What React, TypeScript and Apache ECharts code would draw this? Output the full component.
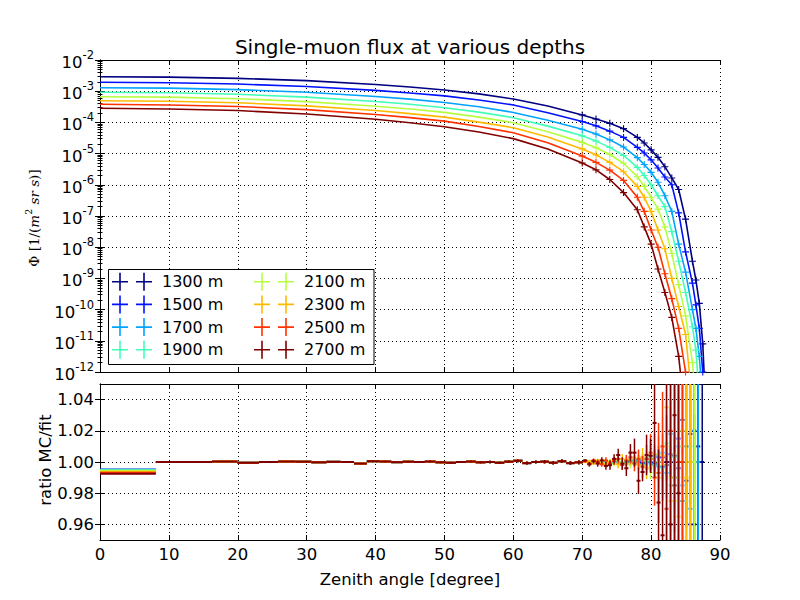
import React, { useEffect, useRef } from 'react';
import * as echarts from 'echarts';

// ---------- labels / names ----------
const titleText = 'Single-muon flux at various depths';
const xAxisTitle = 'Zenith angle [degree]';
const ratioTitle = 'ratio MC/fit';
const depthNames = ['1300 m', '1500 m', '1700 m', '1900 m', '2100 m', '2300 m', '2500 m', '2700 m'];
const depthColors = ['#000080', '#0012ff', '#00a4ff', '#40ffb6', '#b6ff40', '#ffba00', '#ff3200', '#800000'];
const ratioTicks = [0.96, 0.98, 1.0, 1.02, 1.04];

// ---------- top panel: log10 of flux ----------
const fluxAngles = [0, 10, 20, 30, 40, 45, 50, 55, 60, 65, 70, 72, 74, 76, 78, 79, 80, 81, 82, 83, 84, 85, 86, 86.5, 87, 87.5, 88];
const logFlux1300 = [-2.535, -2.55, -2.59, -2.66, -2.785, -2.864, -2.96, -3.086, -3.25, -3.472, -3.76, -3.89, -4.03, -4.2, -4.48, -4.66, -4.88, -5.12, -5.42, -5.78, -6.15, -7.1, -8.45, -9.05, -9.8, -11.1, -13.5];
const logFlux1500 = [-2.715, -2.73, -2.77, -2.85, -2.975, -3.056, -3.15, -3.28, -3.44, -3.69, -3.97, -4.11, -4.28, -4.48, -4.8, -4.98, -5.2, -5.46, -5.75, -6.0, -6.9, -8.15, -9.15, -9.85, -10.6, -12.0, -14];
const logFlux1700 = [-2.888, -2.9, -2.95, -3.035, -3.168, -3.255, -3.36, -3.5, -3.68, -3.93, -4.22, -4.37, -4.56, -4.79, -5.13, -5.35, -5.6, -5.92, -6.35, -6.85, -7.9, -8.8, -10.0, -10.6, -11.5, -13, -15];
const logFlux1900 = [-3.035, -3.05, -3.1, -3.19, -3.328, -3.42, -3.53, -3.67, -3.85, -4.12, -4.43, -4.6, -4.8, -5.06, -5.44, -5.7, -6.0, -6.35, -6.7, -7.5, -8.45, -9.45, -10.55, -11.3, -12.8, -14, -15];
const logFlux2100 = [-3.176, -3.19, -3.24, -3.335, -3.482, -3.573, -3.68, -3.83, -4.01, -4.3, -4.64, -4.81, -5.03, -5.31, -5.74, -6.05, -6.4, -6.78, -7.35, -8.2, -9.2, -10.2, -11.7, -13, -14, -15, -16];
const logFlux2300 = [-3.304, -3.32, -3.37, -3.47, -3.62, -3.718, -3.83, -3.99, -4.17, -4.47, -4.85, -5.04, -5.28, -5.58, -6.05, -6.4, -6.85, -7.45, -8.05, -9.0, -9.9, -10.8, -13, -14, -15, -16, -17];
const logFlux2500 = [-3.42, -3.44, -3.49, -3.59, -3.748, -3.848, -3.96, -4.13, -4.33, -4.65, -5.08, -5.28, -5.53, -5.86, -6.4, -6.85, -7.45, -8.0, -8.85, -9.65, -10.6, -12.0, -14, -15, -16, -17, -18];
const logFlux2700 = [-3.548, -3.57, -3.62, -3.73, -3.9, -4.01, -4.14, -4.31, -4.52, -4.85, -5.3, -5.52, -5.83, -6.25, -6.8, -7.35, -7.9, -8.7, -9.45, -10.25, -11.5, -13.5, -15, -16, -17, -18, -19];
const logFluxAll = [logFlux1300, logFlux1500, logFlux1700, logFlux1900, logFlux2100, logFlux2300, logFlux2500, logFlux2700];

// ---------- bottom panel: ratio MC/fit ----------
const ratioEdges = [0, 8.11, 11.48, 16.26, 19.95, 23.07, 25.84, 28.36, 30.68, 32.86, 34.92, 36.87, 38.74, 40.54, 42.27, 43.95, 45.57, 47.16, 48.7, 50.21, 51.68, 53.13, 54.55, 55.95, 57.32, 58.67, 60.0, 61.31, 62.61, 63.9, 65.17, 66.42, 67.67, 68.9, 70.12, 70.73, 71.34, 71.95, 72.54, 73.14, 73.74, 74.33, 74.93, 75.52, 76.11, 76.7, 77.29, 77.88, 78.46, 79.05, 79.63, 80.21, 80.79, 81.37, 81.95, 82.53, 83.11, 83.69, 84.26, 84.84, 85.41, 85.99, 86.56, 87.13, 87.71];
const firstBinRatio = [0.9951, 0.9951, 0.9951, 0.9947, 0.9944, 0.9938, 0.9931, 0.9925];
const lowRatio = [1.0, 1.0, 1.0003, 0.9995, 1.0, 1.0003, 1.0002, 0.9998, 1.0001, 1.0, 0.999, 1.0005, 1.0003, 0.9999, 1.0002, 1.0, 1.0003, 0.9998, 0.9995, 1.0, 1.0003, 0.9998, 1.0, 0.9995, 1.0002, 1.0008, 0.9993, 1.0, 1.0002, 0.9995, 1.0005, 0.9993, 0.9998];
const lowErr = [0.0002, 0.0002, 0.0002, 0.0003, 0.0003, 0.0003, 0.0003, 0.0003, 0.0004, 0.0004, 0.0004, 0.0004, 0.0005, 0.0005, 0.0005, 0.0005, 0.0006, 0.0006, 0.0006, 0.0007, 0.0007, 0.0007, 0.0008, 0.0008, 0.0009, 0.0009, 0.001, 0.001, 0.0011, 0.0011, 0.0012, 0.0012, 0.0013];

const highRatio1300 = [1.0, 0.9998, 1.0002, 1.0, 0.9997, 1.0003, 1.0, 0.9998, 1.0002, 1.0, 0.9995, 1.0005, 1.0, 1.001, 0.9992, 1.0, 1.002, 0.999, 1.0, 1.003, 0.998, 1.0, 1.004, 0.996, 1.027, 0.988, 1.018, 0.96, 1.01, 1.0];
const highErr1300 = [0.0003, 0.0004, 0.0005, 0.0006, 0.0007, 0.0008, 0.0009, 0.001, 0.0011, 0.0013, 0.0015, 0.0017, 0.002, 0.0022, 0.0025, 0.003, 0.0035, 0.004, 0.005, 0.006, 0.008, 0.01, 0.013, 0.017, 0.022, 0.03, 0.045, 0.07, 0.12, 0.5];
const highRatio1500 = [1.0, 1.0002, 0.9998, 1.0, 1.0003, 0.9997, 1.0, 1.0002, 0.9998, 1.0, 1.0006, 0.9994, 1.001, 1.0, 0.999, 1.0015, 1.0, 0.998, 1.003, 0.997, 1.0, 1.005, 0.99, 1.015, 0.975, 1.01, 0.96, 1.02, 1.0, null];
const highErr1500 = [0.0004, 0.0005, 0.0006, 0.0007, 0.0008, 0.0009, 0.001, 0.0011, 0.0013, 0.0015, 0.0017, 0.002, 0.0022, 0.0025, 0.003, 0.0035, 0.004, 0.005, 0.007, 0.009, 0.012, 0.015, 0.02, 0.027, 0.035, 0.05, 0.08, 0.13, 0.5, null];
const highRatio1700 = [1.0, 0.9998, 1.0003, 1.0, 0.9996, 1.0004, 1.0, 0.9997, 1.0003, 1.0, 0.999, 1.001, 1.0, 1.0015, 0.9985, 1.002, 0.999, 1.004, 0.997, 1.006, 0.993, 1.018, 0.985, 1.01, 0.985, 1.0, 0.97, 1.02, 1.0, null];
const highErr1700 = [0.0005, 0.0006, 0.0007, 0.0008, 0.0009, 0.001, 0.0011, 0.0013, 0.0015, 0.0017, 0.002, 0.0022, 0.0025, 0.003, 0.0035, 0.004, 0.005, 0.007, 0.009, 0.012, 0.016, 0.022, 0.03, 0.045, 0.065, 0.1, 0.16, 0.3, 0.6, null];
const highRatio1900 = [1.0, 1.0003, 0.9997, 1.0, 1.0006, 0.9995, 1.0, 1.0004, 0.9996, 1.0, 1.001, 0.999, 1.0005, 0.9985, 1.002, 1.0, 1.003, 0.998, 1.005, 0.996, 1.012, 0.985, 1.003, 0.99, 1.02, 0.975, 1.01, 1.0, null, null];
const highErr1900 = [0.0006, 0.0007, 0.0008, 0.0009, 0.001, 0.0011, 0.0013, 0.0015, 0.0017, 0.002, 0.0023, 0.0026, 0.003, 0.0035, 0.004, 0.005, 0.0065, 0.009, 0.012, 0.016, 0.022, 0.03, 0.045, 0.07, 0.11, 0.18, 0.3, 0.6, null, null];
const highRatio2100 = [1.0, 0.9995, 1.0005, 1.0, 1.001, 0.999, 1.0005, 0.999, 1.001, 1.0, 1.0015, 0.999, 1.002, 1.003, 0.998, 1.001, 0.997, 0.993, 1.0, 0.998, 1.01, 0.99, 1.005, 0.975, 1.01, 0.99, 1.0, 1.0, null, null];
const highErr2100 = [0.0007, 0.0008, 0.0009, 0.001, 0.0011, 0.0013, 0.0015, 0.0017, 0.002, 0.0023, 0.0027, 0.003, 0.0035, 0.004, 0.005, 0.006, 0.008, 0.012, 0.016, 0.02, 0.03, 0.05, 0.08, 0.12, 0.2, 0.35, 0.5, 0.8, null, null];
const highRatio2300 = [1.0, 1.0005, 0.999, 1.001, 0.9995, 0.9985, 1.0, 1.001, 0.9985, 1.002, 0.999, 1.0015, 1.0, 0.998, 1.003, 0.996, 1.002, 1.005, 0.99, 1.004, 1.035, 0.975, 0.99, 0.965, 1.02, 0.99, 1.0, null, null, null];
const highErr2300 = [0.0008, 0.001, 0.001, 0.0012, 0.0013, 0.0015, 0.0018, 0.002, 0.0025, 0.003, 0.003, 0.0035, 0.004, 0.005, 0.006, 0.007, 0.009, 0.013, 0.018, 0.025, 0.04, 0.06, 0.1, 0.2, 0.3, 0.5, 0.8, null, null, null];
const highRatio2500 = [1.0005, 0.999, 1.001, 1.0, 0.9985, 1.001, 0.999, 1.0005, 1.002, 0.998, 1.001, 1.003, 0.999, 1.002, 0.997, 1.002, 1.006, 0.99, 0.993, 1.01, 0.97, 1.02, 0.985, 1.0, 1.0, null, null, null, null, null];
const highErr2500 = [0.001, 0.001, 0.0012, 0.0015, 0.0015, 0.002, 0.002, 0.0025, 0.003, 0.003, 0.0035, 0.004, 0.005, 0.006, 0.007, 0.009, 0.012, 0.018, 0.032, 0.035, 0.06, 0.15, 0.25, 0.4, 0.6, null, null, null, null, null];
const highRatio2700 = [1.001, 0.9985, 1.0005, 0.999, 1.001, 0.9975, 0.998, 1.002, 1.0045, 0.999, 0.996, 1.006, 1.006, 0.988, 0.9936, 1.0045, 1.004, 1.025, 0.974, 0.953, 1.0, 0.96, 1.03, 0.98, null, null, null, null, null, null];
const highErr2700 = [0.001, 0.0015, 0.0015, 0.002, 0.002, 0.0025, 0.003, 0.003, 0.004, 0.004, 0.005, 0.0055, 0.009, 0.0085, 0.006, 0.013, 0.011, 0.035, 0.034, 0.045, 0.2, 0.2, 0.3, 0.5, null, null, null, null, null, null];
const highRatioAll = [highRatio1300, highRatio1500, highRatio1700, highRatio1900, highRatio2100, highRatio2300, highRatio2500, highRatio2700];
const highErrAll = [highErr1300, highErr1500, highErr1700, highErr1900, highErr2100, highErr2300, highErr2500, highErr2700];

const FONT = '"DejaVu Sans", sans-serif';
const plusSymbol = 'path://M4.2,0H5.8V4.2H10V5.8H5.8V10H4.2V5.8H0V4.2H4.2Z';
const legendIcon = 'path://M7.2,0H8.8V8.2H16V9.8H8.8V18H7.2V9.8H0V8.2H7.2Z M31.2,0H32.8V8.2H40V9.8H32.8V18H31.2V9.8H24V8.2H31.2Z M44.9,8.9H45V9.1H44.9Z';

function buildRatioData(d: number) {
  const out: number[][] = [];
  for (let i = 0; i < ratioEdges.length - 1; i++) {
    let r: number | null;
    let e: number | null;
    if (i === 0) { r = firstBinRatio[d]; e = 0.0002; }
    else if (i <= lowRatio.length) { r = lowRatio[i - 1]; e = lowErr[i - 1]; }
    else { r = highRatioAll[d][i - 1 - lowRatio.length]; e = highErrAll[d][i - 1 - lowRatio.length]; }
    if (r == null || e == null) continue;
    out.push([ratioEdges[i], ratioEdges[i + 1], r, e]);
  }
  return out;
}

export default function App() {
  const ref = useRef<HTMLDivElement>(null);
  useEffect(() => {
    if (!ref.current) return;
    const chart = echarts.init(ref.current, undefined, { renderer: 'svg' });

    const tickLine = { lineStyle: { color: '#000', width: 1 } };
    const dotted = { show: true, lineStyle: { color: '#000', width: 1, type: [1, 3] as any } };
    const labelStyle = { color: '#000', fontSize: 16.5, fontFamily: FONT };

    const lineSeries = depthNames.map((name, d) => ({
      type: 'line',
      name,
      xAxisIndex: 0,
      yAxisIndex: 0,
      data: fluxAngles.map((a, k) => [a, Math.pow(10, logFluxAll[d][k])]),
      symbol: (v: number[]) => (v[0] >= 70 ? plusSymbol : 'none'),
      symbolSize: 7,
      smooth: false,
      clip: true,
      color: depthColors[d],
      itemStyle: { color: depthColors[d] },
      lineStyle: { color: depthColors[d], width: 1.6 },
      z: 2 + d * 0.01,
    }));

    const ratioSeries = depthNames.map((name, d) => {
      const c = depthColors[d];
      return {
        type: 'custom',
        name,
        xAxisIndex: 2,
        yAxisIndex: 2,
        data: buildRatioData(d),
        encode: { x: [0, 1], y: 2 },
        z: 2 + d * 0.01,
        renderItem: (params: any, api: any) => {
          const x0 = api.value(0), x1 = api.value(1), r = api.value(2), e = api.value(3);
          const cs = params.coordSys;
          const yTop = cs.y, yBot = cs.y + cs.height;
          const a = api.coord([x0, r]);
          const b = api.coord([x1, r]);
          const xm = (a[0] + b[0]) / 2;
          const t = api.coord([x0, r + e])[1];
          const bt = api.coord([x0, r - e])[1];
          const children: any[] = [];
          const y1 = Math.max(t, yTop), y2 = Math.min(bt, yBot);
          if (y2 > y1) children.push({ type: 'line', shape: { x1: xm, y1, x2: xm, y2 }, style: { stroke: c, lineWidth: 1.5 } });
          if (a[1] >= yTop && a[1] <= yBot) children.push({ type: 'line', shape: { x1: a[0], y1: a[1], x2: b[0], y2: b[1] }, style: { stroke: c, lineWidth: 2 } });
          return { type: 'group', children };
        },
      };
    });

    const legendCommon = {
      orient: 'vertical',
      icon: legendIcon,
      itemWidth: 45,
      itemHeight: 18,
      itemGap: 4.7,
      padding: 0,
      top: 272.7,
      selectedMode: false,
      textStyle: { color: '#000', fontSize: 16, fontFamily: FONT, lineHeight: 18 },
    };

    const option: any = {
      animation: false,
      backgroundColor: '#fff',
      grid: [
        { left: 100, top: 60, width: 620, height: 312, show: false, outerBoundsMode: 'none' },
        { left: 100, top: 384, width: 620, height: 156, show: false, outerBoundsMode: 'none' },
      ],
      xAxis: [
        { gridIndex: 0, type: 'value', min: 0, max: 90, interval: 10, position: 'bottom',
          axisLine: { show: true, ...tickLine }, axisTick: { show: true, inside: true, length: 5, ...tickLine },
          axisLabel: { show: false }, splitLine: dotted },
        { gridIndex: 0, type: 'value', min: 0, max: 90, interval: 10, position: 'top',
          axisLine: { show: true, ...tickLine }, axisTick: { show: true, inside: true, length: 5, ...tickLine },
          axisLabel: { show: false }, splitLine: { show: false } },
        { gridIndex: 1, type: 'value', min: 0, max: 90, interval: 10, position: 'bottom',
          axisLine: { show: true, ...tickLine }, axisTick: { show: true, inside: true, length: 5, ...tickLine },
          axisLabel: { ...labelStyle, margin: 6, showMinLabel: true, showMaxLabel: true },
          splitLine: dotted,
          name: xAxisTitle, nameLocation: 'middle', nameGap: 31, nameTextStyle: { ...labelStyle } },
        { gridIndex: 1, type: 'value', min: 0, max: 90, interval: 10, position: 'top',
          axisLine: { show: true, ...tickLine }, axisTick: { show: true, inside: true, length: 5, ...tickLine },
          axisLabel: { show: false }, splitLine: { show: false } },
      ],
      yAxis: [
        { gridIndex: 0, type: 'log', logBase: 10, min: 1e-12, max: 1e-2, splitNumber: 10, position: 'left',
          axisLine: { show: true, ...tickLine }, axisTick: { show: true, inside: true, length: 5, ...tickLine },
          minorTick: { show: true, splitNumber: 9, length: 2.5, lineStyle: { color: '#000', width: 1 } },
          axisLabel: {
            margin: 6, showMinLabel: true, showMaxLabel: true,
            formatter: (v: number) => `{b|10}{s|${Math.round(Math.log10(v))}}`,
            rich: {
              b: { fontSize: 16.5, fontFamily: FONT, color: '#000', lineHeight: 22, verticalAlign: 'bottom' },
              s: { fontSize: 11.5, fontFamily: FONT, color: '#000', lineHeight: 22, verticalAlign: 'top' },
            },
          },
          splitLine: dotted },
        { gridIndex: 0, type: 'log', logBase: 10, min: 1e-12, max: 1e-2, splitNumber: 10, position: 'right',
          axisLine: { show: true, ...tickLine }, axisTick: { show: true, inside: true, length: 5, ...tickLine },
          minorTick: { show: true, splitNumber: 9, length: 2.5, lineStyle: { color: '#000', width: 1 } },
          axisLabel: { show: false }, splitLine: { show: false } },
        { gridIndex: 1, type: 'value', min: 0.95, max: 1.05, position: 'left',
          axisLine: { show: true, ...tickLine },
          axisTick: { show: true, inside: true, length: 5, customValues: ratioTicks, ...tickLine },
          axisLabel: { ...labelStyle, margin: 6, customValues: ratioTicks, formatter: (v: number) => v.toFixed(2) },
          splitLine: dotted },
        { gridIndex: 1, type: 'value', min: 0.95, max: 1.05, position: 'right',
          axisLine: { show: true, ...tickLine },
          axisTick: { show: true, inside: true, length: 5, customValues: ratioTicks, ...tickLine },
          axisLabel: { show: false, customValues: ratioTicks }, splitLine: { show: false } },
      ],
      legend: [
        { ...legendCommon, left: 112, data: depthNames.slice(0, 4) },
        { ...legendCommon, left: 254, data: depthNames.slice(4) },
      ],
      graphic: [
        { type: 'rect', z: 3, shape: { x: 108.5, y: 269.5, width: 265.5, height: 95 },
          style: { fill: '#fff', stroke: '#000', lineWidth: 1 } },
        { type: 'text', x: 410, y: 47, z: 5,
          style: { text: titleText, fill: '#000', fontSize: 20, fontFamily: FONT, align: 'center', verticalAlign: 'middle' } },
        { type: 'text', x: 32, y: 218, rotation: Math.PI / 2, z: 5,
          style: {
            text: '{r|Φ [1/(}{i|m}{s|2}{i| sr s}{r|)]}',
            align: 'center', verticalAlign: 'middle',
            rich: {
              r: { fontSize: 13.5, fontFamily: '"DejaVu Serif", serif', fill: '#000', lineHeight: 18, verticalAlign: 'bottom' },
              i: { fontSize: 13.5, fontFamily: '"DejaVu Serif", serif', fontStyle: 'italic', fill: '#000', lineHeight: 18, verticalAlign: 'bottom' },
              s: { fontSize: 9.5, fontFamily: '"DejaVu Serif", serif', fill: '#000', lineHeight: 18, verticalAlign: 'top' },
            },
          } },
        { type: 'text', x: 45, y: 460, rotation: Math.PI / 2, z: 5,
          style: { text: ratioTitle, fill: '#000', fontSize: 16.5, fontFamily: FONT, align: 'center', verticalAlign: 'middle' } },
      ],
      series: [...lineSeries, ...ratioSeries],
    };
    chart.setOption(option);
    return () => chart.dispose();
  }, []);
  return <div ref={ref} style={{ position: 'absolute', left: 0, top: 0, width: 800, height: 600 }} />;
}
